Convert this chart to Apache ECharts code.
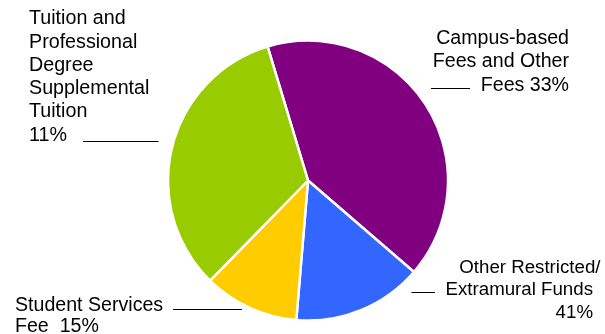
<!DOCTYPE html>
<html>
<head>
<meta charset="utf-8">
<script src="https://cdn.jsdelivr.net/npm/echarts@6/dist/echarts.min.js"></script>
<style>
html,body{margin:0;padding:0;background:#fff;}
#chart{width:605px;height:334px;}
</style>
</head>
<body>
<div id="chart"></div>
<script>
// Data
const categories = [
  'Campus-based Fees and Other Fees',
  'Other Restricted/Extramural Funds',
  'Student Services Fee',
  'Tuition and Professional Degree Supplemental Tuition'
];
const values = [41, 15, 11, 33];
const labelTexts = [
  'Campus-based\nFees and Other\nFees 33%',
  'Other Restricted/\nExtramural Funds\n41%',
  'Student Services\nFee  15%',
  'Tuition and\nProfessional\nDegree\nSupplemental\nTuition\n11%'
];
const colors = ['#800080', '#3366FF', '#FFCC00', '#99CC00'];

// Label placement (layout only)
const labelPlacement = [
  { x: 569, y: 27, align: 'right', fontSize: 19.6, lineHeight: 23.3, pad: [0, 0, 0], line: [[431, 88.5], [470, 88.5]] },
  { x: 600.5, y: 256.2, align: 'right', fontSize: 18.7, lineHeight: 22.6, pad: [0, 7.5, 7.5], line: [[411.5, 292.5], [435, 292.5]] },
  { x: 15, y: 294.5, align: 'left', fontSize: 19.6, lineHeight: 21.7, pad: [0, 0], line: [[173, 309.5], [242, 309.5]] },
  { x: 29, y: 7.2, align: 'left', fontSize: 19.7, lineHeight: 23.3, pad: [0, 0, 0, 0, 0, 0], line: [[83, 141.5], [158.5, 141.5]] }
];

const chart = echarts.init(document.getElementById('chart'), null, { renderer: 'canvas' });
const font = '"Liberation Sans", Arial, sans-serif';

function richFor(p) {
  const r = {};
  p.pad.forEach((pd, j) => {
    r['l' + j] = {
      fontSize: p.fontSize,
      lineHeight: p.lineHeight,
      fontFamily: font,
      color: '#000000',
      padding: [0, pd, 0, 0]
    };
  });
  return r;
}

chart.setOption({
  animation: false,
  backgroundColor: '#ffffff',
  series: [{
    type: 'pie',
    center: [308, 180.5],
    radius: 140,
    startAngle: 106.8,
    clockwise: true,
    avoidLabelOverlap: false,
    data: categories.map((c, i) => ({
      name: c,
      value: values[i],
      itemStyle: { color: colors[i] },
      label: {
        fontSize: labelPlacement[i].fontSize,
        lineHeight: labelPlacement[i].lineHeight,
        align: labelPlacement[i].align,
        rich: richFor(labelPlacement[i])
      }
    })),
    itemStyle: { borderColor: '#ffffff', borderWidth: 2.5 },
    label: {
      show: true,
      position: 'outside',
      color: '#000000',
      fontFamily: font,
      formatter: p => labelTexts[p.dataIndex].split('\n').map((l, j) => '{l' + j + '|' + l + '}').join('\n')
    },
    labelLine: {
      show: true,
      lineStyle: { color: '#000000', width: 1 }
    },
    labelLayout: function (params) {
      const p = labelPlacement[params.dataIndex];
      return {
        x: p.x,
        y: p.y,
        align: p.align,
        verticalAlign: 'top',
        labelLinePoints: p.line
      };
    },
    emphasis: { disabled: true }
  }]
});
</script>
</body>
</html>
